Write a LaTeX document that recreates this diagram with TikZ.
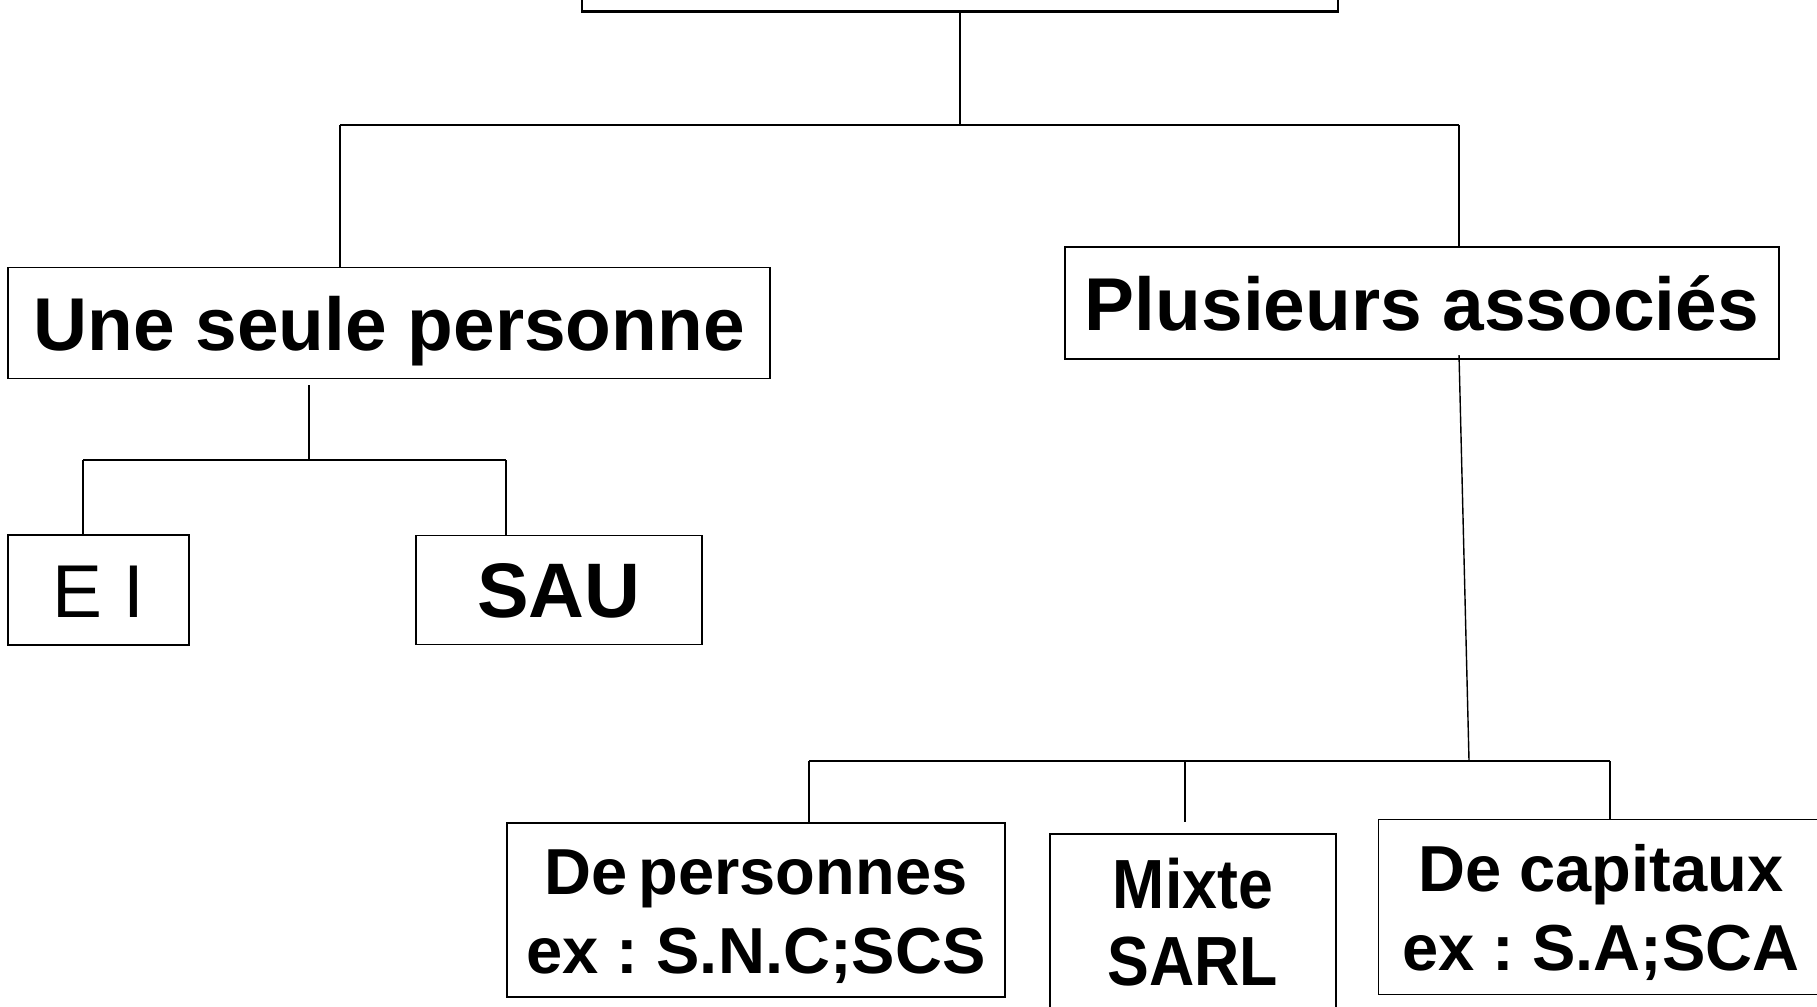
\documentclass[tikz,border=0pt]{standalone}
\usepackage{fontspec}
\setmainfont{Liberation Sans}
\usetikzlibrary{positioning}
\newcommand{\topstrut}{\rule{0pt}{16.4pt}}
\frenchspacing

\begin{document}
\begin{tikzpicture}[
        box/.style={draw, line width=0.5pt, inner sep=0pt, align=center, text height=19.2pt, text depth=3.8pt, font=\fontsize{21.3}{25}\selectfont\bfseries},
        leaf/.style={draw, line width=0.5pt, inner sep=0pt, align=center, font=\fontsize{18.5}{22.6}\selectfont\bfseries},
        link/.style={line width=0.4pt},
    ]
    \path[use as bounding box, clip] (0,0) rectangle (18.17,-10.06);

    % Root (cut by the frame)
    \node[box, line width=0.7pt, minimum width=7.56cm, minimum height=1cm, anchor=south] (root) at (9.60,-0.127) {};

    % Level 1
    \node[box, minimum width=7.62cm, minimum height=1.11cm] (seule) at (3.89,-3.23) {Une seule personne};
    \node[box, minimum width=7.14cm, minimum height=1.12cm] (assoc) at (14.22,-3.03) {Plusieurs associés};

    % Level 2, one person
    \node[box, font=\fontsize{21.3}{25}\selectfont, minimum width=1.81cm, minimum height=1.10cm] (ei) at (0.985,-5.90) {E I};
    \node[box, font=\fontsize{22}{25}\selectfont\bfseries, minimum width=2.86cm, minimum height=1.09cm] (sau) at (5.59,-5.90) {SAU};

    % Level 2, several partners
    \node[leaf, minimum width=4.98cm, minimum height=1.74cm] (pers) at (7.56,-9.10) {\topstrut De\,personnes\\ex : S.N.C;SCS};
    \node[leaf, font=\fontsize{19.8}{21.8}\selectfont\bfseries, minimum width=2.86cm, minimum height=1.76cm] (mixte) at (11.93,-9.22) {\scalebox{0.9}[1]{Mixte}\\\scalebox{0.9}[1]{SARL}};
    \node[leaf, minimum width=4.45cm, minimum height=1.75cm] (capit) at (16.01,-9.07) {\topstrut De capitaux\\ex : S.A;SCA};

    % Junctions
    \coordinate (split) at (9.60,-1.25);
    \coordinate (jseule) at (3.40,-1.25);
    \coordinate (jassoc) at (14.59,-1.25);
    \coordinate (sTop) at (3.09,-3.85);
    \coordinate (sSplit) at (3.09,-4.60);
    \coordinate (jei) at (0.83,-4.60);
    \coordinate (jsau) at (5.06,-4.60);
    \coordinate (aTop) at (14.59,-3.55);
    \coordinate (aSplit) at (14.69,-7.61);
    \coordinate (jpers) at (8.09,-7.61);
    \coordinate (jmixte) at (11.85,-7.61);
    \coordinate (mEnd) at (11.85,-8.22);
    \coordinate (jcapit) at (16.10,-7.61);

    % Connectors, top
    \draw[link] (root.south) -- (split);
    \draw[link] (jseule) -- (jassoc);
    \draw[link] (jseule) -- (jseule |- seule.north);
    \draw[link] (jassoc) -- (jassoc |- assoc.north);

    % Connectors, one person
    \draw[link] (sTop) -- (sSplit);
    \draw[link] (jei) -- (jsau);
    \draw[link] (jei) -- (jei |- ei.north);
    \draw[link] (jsau) -- (jsau |- sau.north);

    % Connectors, several partners
    \draw[link] (aTop) -- (aSplit);
    \draw[link] (jpers) -- (jcapit);
    \draw[link] (jpers) -- (jpers |- pers.north);
    \draw[link] (jmixte) -- (mEnd);
    \draw[link] (jcapit) -- (jcapit |- capit.north);
\end{tikzpicture}
\end{document}
